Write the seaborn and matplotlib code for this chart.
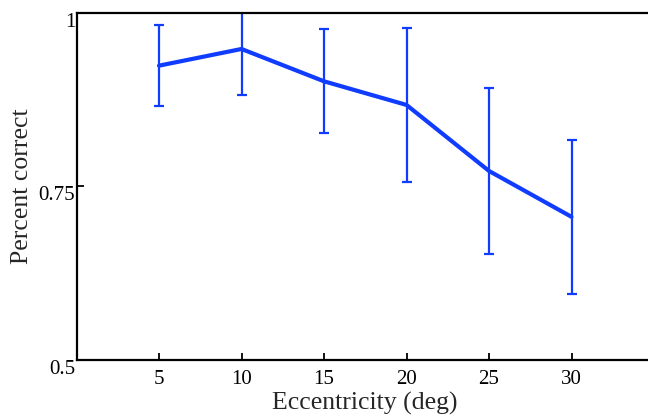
import matplotlib
matplotlib.use("Agg")
import matplotlib.pyplot as plt
import seaborn as sns
import pandas as pd

eccentricity = [5, 10, 15, 20, 25, 30]
percent_correct = [0.9235, 0.9475, 0.901, 0.867, 0.772, 0.706]
error = [0.058, 0.066, 0.075, 0.111, 0.120, 0.111]
x_ticks = [5, 10, 15, 20, 25, 30]
y_ticks = [0.5, 0.75, 1]
y_tick_labels = ["0.5", "0.75", "1"]

sns.set_style("white")
plt.rcParams["font.family"] = ["Liberation Serif", "DejaVu Serif"]

fig = plt.figure(figsize=(6.48, 4.18), dpi=100)
ax = fig.add_axes([76.5 / 648, 1 - 360 / 418, (654 - 76.5) / 648, (360 - 12.5) / 418])

df = pd.DataFrame({"ecc": eccentricity, "pc": percent_correct})
blue = "#0f3cff"
sns.lineplot(data=df, x="ecc", y="pc", ax=ax, color=blue, linewidth=3.0)
ax.errorbar(eccentricity, percent_correct, yerr=error, fmt="none",
            ecolor=blue, elinewidth=1.6, capsize=3.5, capthick=1.6)

ax.set_xlim(0, 35)
ax.set_ylim(0.5, 1)
ax.set_xticks(x_ticks)
ax.set_xticklabels([str(t) for t in x_ticks], fontsize=15)
ax.set_yticks(y_ticks)
ax.set_yticklabels(y_tick_labels, fontsize=15, va="top")
ax.tick_params(axis="both", direction="in", length=5, width=1.3, colors="black",
               bottom=True, left=True, top=False, right=False)
ax.tick_params(axis="x", pad=7)
ax.tick_params(axis="y", pad=1)

for side in ["left", "bottom", "top"]:
    ax.spines[side].set_visible(True)
    ax.spines[side].set_linewidth(1.6)
    ax.spines[side].set_color("black")
ax.spines["right"].set_visible(False)

ax.set_xlabel("Eccentricity (deg)", fontsize=18.5, labelpad=2.5)
ax.set_ylabel("Percent correct", fontsize=18.5, labelpad=4)
ax.grid(False)

fig.savefig("out.png", dpi=100)
